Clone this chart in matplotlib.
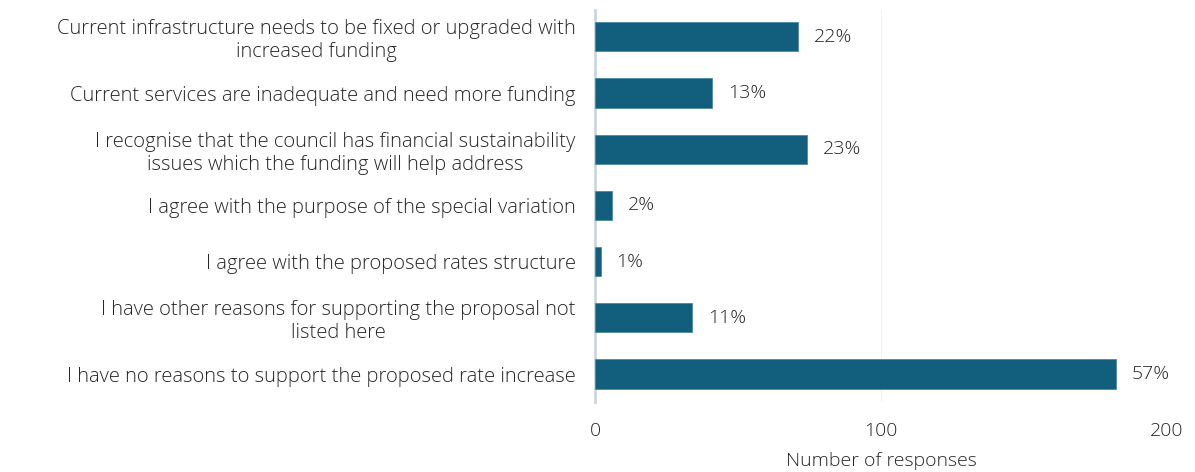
import matplotlib.pyplot as plt

# survey responses: reasons for supporting the proposal
reasons = [
    'Current infrastructure needs to be fixed or upgraded with\nincreased funding',
    'Current services are inadequate and need more funding',
    'I recognise that the council has financial sustainability\nissues which the funding will help address',
    'I agree with the purpose of the special variation',
    'I agree with the proposed rates structure',
    'I have other reasons for supporting the proposal not\nlisted here',
    'I have no reasons to support the proposed rate increase',
]
responses = [71, 41, 74, 6, 2, 34, 182]
pct_labels = ['22%', '13%', '23%', '2%', '1%', '11%', '57%']
x_ticks = [0, 100, 200]

plt.rcParams['font.family'] = ['Open Sans', 'DejaVu Sans']
text_col = '#262626'
bar_col = '#125f7d'
fs = 14.5

fig = plt.figure(figsize=(11.95, 4.72), dpi=100)
ax = fig.add_axes([0.498, 0.148, 0.4786, 0.831])

ypos = list(range(len(reasons)))
ax.barh(ypos, responses, height=0.52, color=bar_col, edgecolor='#4d8aa3', linewidth=0.6, zorder=3)

for y, v, lab in zip(ypos, responses, pct_labels):
    ax.text(v + 5.5, y, lab, va='center', ha='left', fontsize=fs - 0.5,
            color=text_col, fontweight='light')

ax.set_xlim(0, 200)
ax.set_ylim(6.5, -0.48)
ax.set_yticks(ypos)
ax.set_yticklabels(reasons, fontsize=fs, color=text_col, multialignment='center',
                   linespacing=1.2, fontweight='light')
ax.tick_params(axis='y', length=0, pad=14)

ax.set_xticks(x_ticks)
ax.set_xticklabels([str(t) for t in x_ticks], fontsize=fs - 0.5, color=text_col,
                   fontweight='light')
ax.tick_params(axis='x', length=0, pad=14)
ax.set_xlabel('Number of responses', fontsize=fs - 0.5, color=text_col,
              fontweight='light', labelpad=9)

ax.grid(axis='x', color='#f2f2f2', linewidth=0.8, zorder=0)
for s in ['top', 'right', 'bottom']:
    ax.spines[s].set_visible(False)
ax.spines['left'].set_color('#ccd5e0')
ax.spines['left'].set_linewidth(2)

fig.savefig('out.png', dpi=100, facecolor='white')
